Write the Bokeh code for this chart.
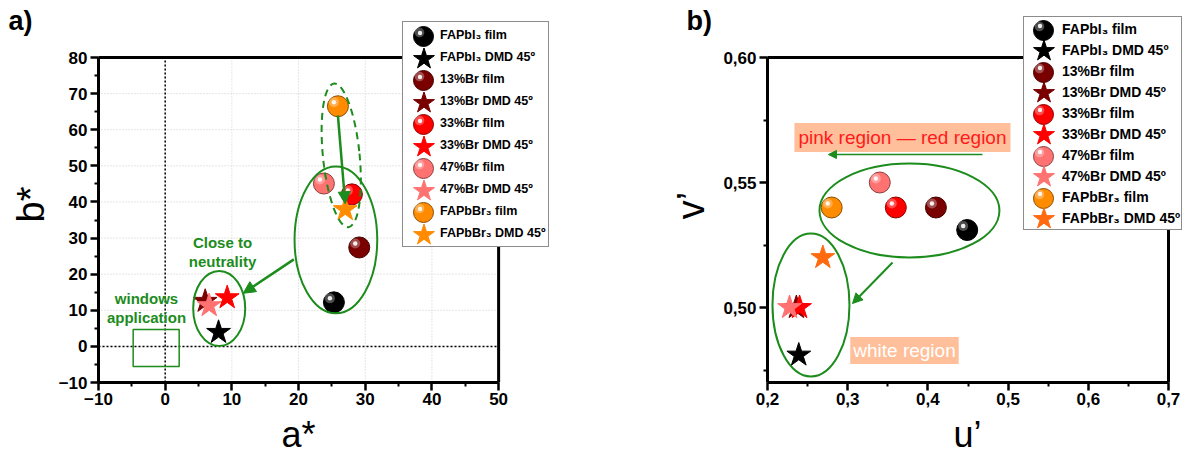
import math
from bokeh.plotting import figure
from bokeh.models import (Range1d, FixedTicker, Legend, LegendItem, Label,
                          Arrow, NormalHead, BoxAnnotation, CustomJSTickFormatter)
from bokeh.layouts import row, column
from bokeh.embed import file_html
from bokeh.resources import INLINE

# ---------------- data ----------------
names = ["FAPbI₃", "13%Br", "33%Br", "47%Br", "FAPbBr₃"]
film_labels = [n + " film" for n in names]
dmd_labels = [n + " DMD 45º" for n in names]
film_colors = ["#000000", "#7a0000", "#ff0000", "#ff7272", "#ff8c00"]
dmd_colors_ab = ["#000000", "#7a0000", "#ff0000", "#ff7272", "#ff8c00"]
dmd_colors_uv = ["#000000", "#7a0000", "#ff0000", "#ff7272", "#ff6a10"]

# CIELab a*, b*
a_film = [25.3, 29.1, 28.0, 23.8, 25.9]
b_film = [12.2, 27.4, 42.1, 45.1, 66.5]
a_dmd = [8.0, 6.0, 9.3, 6.6, 27.0]
b_dmd = [3.9, 12.5, 13.5, 11.3, 37.9]

# CIE u', v'
u_film = [0.449, 0.41, 0.36, 0.34, 0.28]
v_film = [0.531, 0.54, 0.54, 0.55, 0.54]
u_dmd = [0.239, 0.236, 0.24, 0.2275, 0.269]
v_dmd = [0.481, 0.50, 0.50, 0.50, 0.52]

a_ticks = [-10, 0, 10, 20, 30, 40, 50]
a_minor = [-5, 5, 15, 25, 35, 45]
b_ticks = [-10, 0, 10, 20, 30, 40, 50, 60, 70, 80]
b_minor = [-5, 5, 15, 25, 35, 45, 55, 65, 75]
u_ticks = [0.2, 0.3, 0.4, 0.5, 0.6, 0.7]
u_minor = [0.25, 0.35, 0.45, 0.55, 0.65]
v_ticks = [0.47, 0.50, 0.55, 0.60]
v_major = [0.50, 0.55, 0.60]
v_minor = [0.475, 0.525, 0.575]

GREEN = "#1c8c1c"
FONT = "Liberation Sans"
SALMON = "#ffbf9a"

# ---------------- layout constants (page pixels) ----------------
H_ROW, H_STRIP = 412, 44
W0, W1, WB, W2 = 55, 494, 166, 474
AX_PX, AY_PX = 401, 325           # axis lengths in px
FRAME_BOTTOM = 382
F1_LEFT = W0 + 42                  # 97
PB_LEFT = W0 + W1                  # 549
F2_LEFT = PB_LEFT + WB + 52        # 767


def darker(c):
    c = c.lstrip("#")
    r, g, b = (int(c[i:i + 2], 16) for i in (0, 2, 4))
    return "#%02x%02x%02x" % (int(r * 0.55), int(g * 0.55), int(b * 0.55))


def blank(width, height):
    f = figure(width=width, height=height, x_range=Range1d(0, width),
               y_range=Range1d(0, height), output_backend="svg", toolbar_location=None,
               x_axis_type=None, y_axis_type=None, min_border=0)
    f.outline_line_alpha = 0
    return f


def main_fig(width, left_border, xt, yt):
    fw = width - left_border
    sx = AX_PX / (xt[-1] - xt[0])
    sy = AY_PX / (yt[-1] - yt[0])
    p = figure(width=width, height=H_ROW,
               x_range=Range1d(xt[0], xt[0] + fw / sx),
               y_range=Range1d(yt[0], yt[0] + FRAME_BOTTOM / sy),
               output_backend="svg", toolbar_location=None,
               min_border_left=left_border, min_border_right=0, min_border_top=0,
               min_border_bottom=H_ROW - FRAME_BOTTOM)
    p.outline_line_alpha = 0
    p.grid.visible = False
    return p


def style(p, xt, xm, yt, ym, xb, yb):
    p.xaxis.ticker = FixedTicker(ticks=xt, minor_ticks=xm)
    p.yaxis.ticker = FixedTicker(ticks=yt, minor_ticks=ym)
    p.xaxis.bounds = xb
    p.yaxis.bounds = yb
    for ax in (p.xaxis[0], p.yaxis[0]):
        ax.axis_line_width = 3
        ax.axis_line_color = "black"
        ax.major_tick_line_width = 2.5
        ax.minor_tick_line_width = 2
        ax.major_tick_out = 8
        ax.major_tick_in = 0
        ax.minor_tick_out = 4
        ax.minor_tick_in = 0
        ax.major_label_text_font = FONT
        ax.major_label_text_font_style = "bold"
        ax.major_label_text_font_size = "17px"
        ax.major_label_text_color = "black"
    p.xaxis.major_label_standoff = 2
    p.yaxis.major_label_standoff = 3
    p.add_layout(BoxAnnotation(left=xb[0], right=xb[1], bottom=yb[0], top=yb[1],
                               fill_alpha=0, line_color="black", line_alpha=1, line_width=3))


def sphere(p, x, y, color, dx, dy):
    r = p.scatter([x], [y], marker="circle", size=21, fill_color=color,
                  line_color=darker(color), line_width=1)
    h1 = p.scatter([x + dx], [y + dy], marker="circle", size=10, fill_color="white",
                   fill_alpha=0.3, line_alpha=0)
    h2 = p.scatter([x + dx], [y + dy], marker="circle", size=4.5, fill_color="white",
                   fill_alpha=0.9, line_alpha=0)
    return r, h1, h2


def star(p, x, y, color):
    return p.scatter([x], [y], marker="star", size=25, fill_color=color,
                     line_color=color, line_width=1)


def glyph_legend(p, rend, cx, cy, g, fl):
    p.add_layout(Legend(items=[LegendItem(label=" ", renderers=[rend])],
                        location=(cx - g / 2 - fl, FRAME_BOTTOM - (cy + g / 2)),
                        glyph_width=g, glyph_height=g, padding=0, spacing=0, margin=0,
                        label_standoff=0, label_width=0, label_height=0,
                        label_text_font_size="1px", border_line_alpha=0,
                        background_fill_alpha=0))


def full_legend(p, entries, left, top, pitch, pad, gw, gx, fl, fsize):
    # entries: list of (label, kind, renderers)
    dummy = p.scatter([float("nan")], [float("nan")], fill_alpha=0, line_alpha=0)
    n = len(entries)
    h = n * pitch + 2 * pad
    p.add_layout(Legend(items=[LegendItem(label=e[0], renderers=[dummy]) for e in entries],
                        location=(left - fl, FRAME_BOTTOM - (top + h)),
                        glyph_width=gw, glyph_height=pitch, label_height=pitch,
                        label_width=0, spacing=0, padding=pad, margin=0, label_standoff=0,
                        label_text_font=FONT, label_text_font_style="bold",
                        label_text_font_size=fsize, label_text_color="black",
                        border_line_color="#8c8c8c", border_line_width=1, border_line_alpha=1,
                        background_fill_color="white", background_fill_alpha=1))
    for k, (lab, kind, rends) in enumerate(entries):
        cy = top + pad + pitch / 2 + k * pitch
        if kind == "film":
            glyph_legend(p, rends[0], gx, cy, 50, fl)
            glyph_legend(p, rends[1], gx - 4, cy - 4, 24, fl)
            glyph_legend(p, rends[2], gx - 4, cy - 4, 11, fl)
        else:
            glyph_legend(p, rends[0], gx, cy, 55, fl)


# ---------------- left panel labels ----------------
p0 = blank(W0, H_ROW)
p0.add_layout(Label(x=8, y=H_ROW - 22, text="a)", text_color="black", text_font=FONT,
                    text_font_style="bold", text_font_size="27px",
                    text_align="left", text_baseline="middle"))
p0.add_layout(Label(x=30, y=H_ROW - 220, text="b*", text_color="black", text_font=FONT,
                    text_font_size="38px", angle=math.pi / 2,
                    text_align="center", text_baseline="middle"))

# ---------------- left: a*, b* ----------------
p1 = main_fig(W1, 42, a_ticks, b_ticks)
p1.segment(x0=a_ticks, y0=[b_ticks[0]] * len(a_ticks), x1=a_ticks, y1=[b_ticks[-1]] * len(a_ticks),
           line_color="#cccccc", line_dash="1 2", line_width=1)
p1.segment(x0=[a_ticks[0]] * len(b_ticks), y0=b_ticks, x1=[a_ticks[-1]] * len(b_ticks), y1=b_ticks,
           line_color="#cccccc", line_dash="1 2", line_width=1)
p1.segment(x0=[0, a_ticks[0]], y0=[b_ticks[0], 0], x1=[0, a_ticks[-1]], y1=[b_ticks[-1], 0],
           line_color="black", line_dash="2 2", line_width=1.5)
style(p1, a_ticks, a_minor, b_ticks, b_minor, (a_ticks[0], a_ticks[-1]), (b_ticks[0], b_ticks[-1]))

entries1 = []
for i in range(5):
    rf = sphere(p1, a_film[i], b_film[i], film_colors[i], -0.6, 1.1)
    rd = star(p1, a_dmd[i], b_dmd[i], dmd_colors_ab[i])
    entries1.append((film_labels[i], "film", rf))
    entries1.append((dmd_labels[i], "dmd", [rd]))

p1.ellipse(x=[8.1], y=[10.5], width=[7.8], height=[20.8], fill_alpha=0,
           line_color=GREEN, line_width=2)
p1.ellipse(x=[25.6], y=[29.5], width=[12.4], height=[40.7], fill_alpha=0,
           line_color=GREEN, line_width=2)
p1.ellipse(x=[26.4], y=[52.9], width=[5.5], height=[40.0], angle=[0.1], fill_alpha=0,
           line_color=GREEN, line_width=2, line_dash="7 5")
p1.add_layout(BoxAnnotation(left=-4.8, right=2.1, bottom=-5.6, top=4.7, fill_alpha=0,
                            line_color=GREEN, line_width=1.5, line_alpha=1))
p1.add_layout(Arrow(end=NormalHead(size=12, fill_color=GREEN, line_color=GREEN),
                    x_start=25.9, y_start=64.0, x_end=27.0, y_end=39.5,
                    line_color=GREEN, line_width=2.5))
p1.add_layout(Arrow(end=NormalHead(size=12, fill_color=GREEN, line_color=GREEN),
                    x_start=19.3, y_start=24.1, x_end=11.7, y_end=14.7,
                    line_color=GREEN, line_width=2.5))
for txt, x, y in [("Close to", 8.6, 28.8), ("neutrality", 8.6, 23.5),
                  ("windows", -2.8, 13.3), ("application", -2.8, 8.0)]:
    p1.add_layout(Label(x=x, y=y, text=txt, text_color=GREEN, text_font=FONT,
                        text_font_style="bold", text_font_size="15px",
                        text_align="center", text_baseline="middle"))
full_legend(p1, entries1, left=401, top=23, pitch=22, pad=2, gw=35, gx=422, fl=F1_LEFT,
            fsize="12.5px")

# ---------------- middle panel labels ----------------
pB = blank(WB, H_ROW)
pB.add_layout(Label(x=686 - PB_LEFT, y=H_ROW - 22, text="b)", text_color="black", text_font=FONT,
                    text_font_style="bold", text_font_size="27px",
                    text_align="left", text_baseline="middle"))
pB.add_layout(Label(x=690 - PB_LEFT, y=H_ROW - 221, text="v’", text_color="black", text_font=FONT,
                    text_font_size="38px", angle=math.pi / 2,
                    text_align="center", text_baseline="middle"))

# ---------------- right: u', v' ----------------
p2 = main_fig(W2, 52, u_ticks, v_ticks)
style(p2, u_ticks, u_minor, v_major, v_minor, (u_ticks[0], u_ticks[-1]), (v_ticks[0], v_ticks[-1]))
p2.xaxis.formatter = CustomJSTickFormatter(code="return tick.toFixed(1).replace('.', ',')")
p2.yaxis.formatter = CustomJSTickFormatter(code="return tick.toFixed(2).replace('.', ',')")

p2.add_layout(Label(x=0.3683, y=0.568, text="pink region — red region", text_color="#ff1a1a",
                    text_font=FONT, text_font_size="19px", text_align="center",
                    text_baseline="middle", background_fill_color=SALMON,
                    background_fill_alpha=1, padding=4))
p2.add_layout(Label(x=0.3708, y=0.4828, text="white region", text_color="white",
                    text_font=FONT, text_font_size="19px", text_align="center",
                    text_baseline="middle", background_fill_color=SALMON,
                    background_fill_alpha=1, padding=3))
p2.add_layout(Arrow(end=NormalHead(size=8, fill_color=GREEN, line_color=GREEN),
                    x_start=0.468, y_start=0.5612, x_end=0.276, y_end=0.5612,
                    line_color=GREEN, line_width=1.5))
p2.ellipse(x=[0.377], y=[0.5388], width=[0.2244], height=[0.0376], fill_alpha=0,
           line_color=GREEN, line_width=2)
p2.ellipse(x=[0.2542], y=[0.501], width=[0.096], height=[0.0572], fill_alpha=0,
           line_color=GREEN, line_width=2)
p2.add_layout(Arrow(end=NormalHead(size=10, fill_color=GREEN, line_color=GREEN),
                    x_start=0.3559, y_start=0.518, x_end=0.306, y_end=0.5016,
                    line_color=GREEN, line_width=2))

entries2 = []
for i in range(5):
    rf = sphere(p2, u_film[i], v_film[i], film_colors[i], -0.005, 0.0016)
    rd = star(p2, u_dmd[i], v_dmd[i], dmd_colors_uv[i])
    entries2.append((film_labels[i], "film", rf))
    entries2.append((dmd_labels[i], "dmd", [rd]))
full_legend(p2, entries2, left=1023, top=18, pitch=21, pad=1, gw=37, gx=1043, fl=F2_LEFT,
            fsize="14px")

# ---------------- bottom strip: x titles ----------------
pT = blank(W0 + W1 + WB + W2, H_STRIP)
for txt, xc in [("a*", 298), ("u’", 967)]:
    pT.add_layout(Label(x=xc, y=456 - 434, text=txt, text_color="black",
                        text_font=FONT, text_font_size="36px",
                        text_align="center", text_baseline="middle"))

layout = column(row(p0, p1, pB, p2), pT)
open("out.html", "w").write(file_html(layout, INLINE))
